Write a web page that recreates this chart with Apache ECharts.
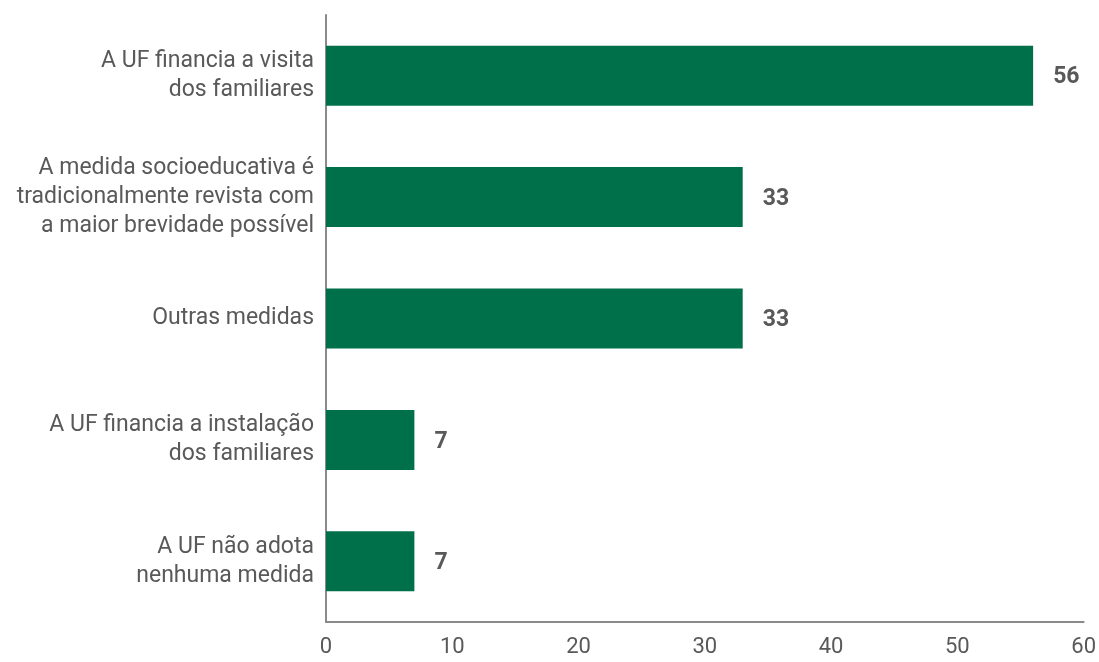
<!DOCTYPE html>
<html><head><meta charset="utf-8">
<script src="https://cdn.jsdelivr.net/npm/echarts@6/dist/echarts.min.js"></script>
<style>html,body{margin:0;padding:0;background:#fff}#c{width:1099px;height:662px}</style>
</head><body><div id="c"></div>
<script>
const categories = [
  "A UF financia a visita\ndos familiares",
  "A medida socioeducativa é\ntradicionalmente revista com\na maior brevidade possível",
  "Outras medidas",
  "A UF financia a instalação\ndos familiares",
  "A UF não adota\nnenhuma medida"
];
const values = [56, 33, 33, 7, 7];
const xTicks = [0, 10, 20, 30, 40, 50, 60];

const chart = echarts.init(document.getElementById('c'));
chart.setOption({
  animation: false,
  grid: { left: 326, right: 15, top: 15, bottom: 40 },
  xAxis: {
    type: 'value', min: 0, max: 60, interval: 10,
    axisLine: { show: true, lineStyle: { color: '#8a8a8a', width: 2 } },
    axisTick: { show: false },
    splitLine: { show: false },
    axisLabel: { color: '#595959', fontSize: 22, fontFamily: 'Roboto', margin: 14,
      formatter: v => xTicks.includes(v) ? String(v) : '' }
  },
  yAxis: {
    type: 'category', data: categories, inverse: true,
    axisLine: { show: true, lineStyle: { color: '#8a8a8a', width: 2 } },
    axisTick: { show: false },
    axisLabel: { color: '#595959', fontSize: 23, fontFamily: 'Roboto', lineHeight: 29, margin: 12, align: 'right' }
  },
  series: [{
    type: 'bar', data: values, barWidth: 60,
    itemStyle: { color: '#00704A' },
    label: { show: true, position: 'right', distance: 20, color: '#595959', fontSize: 23, fontWeight: 'bold', fontFamily: 'Roboto', offset: [0, 2] }
  }]
});
</script></body></html>
